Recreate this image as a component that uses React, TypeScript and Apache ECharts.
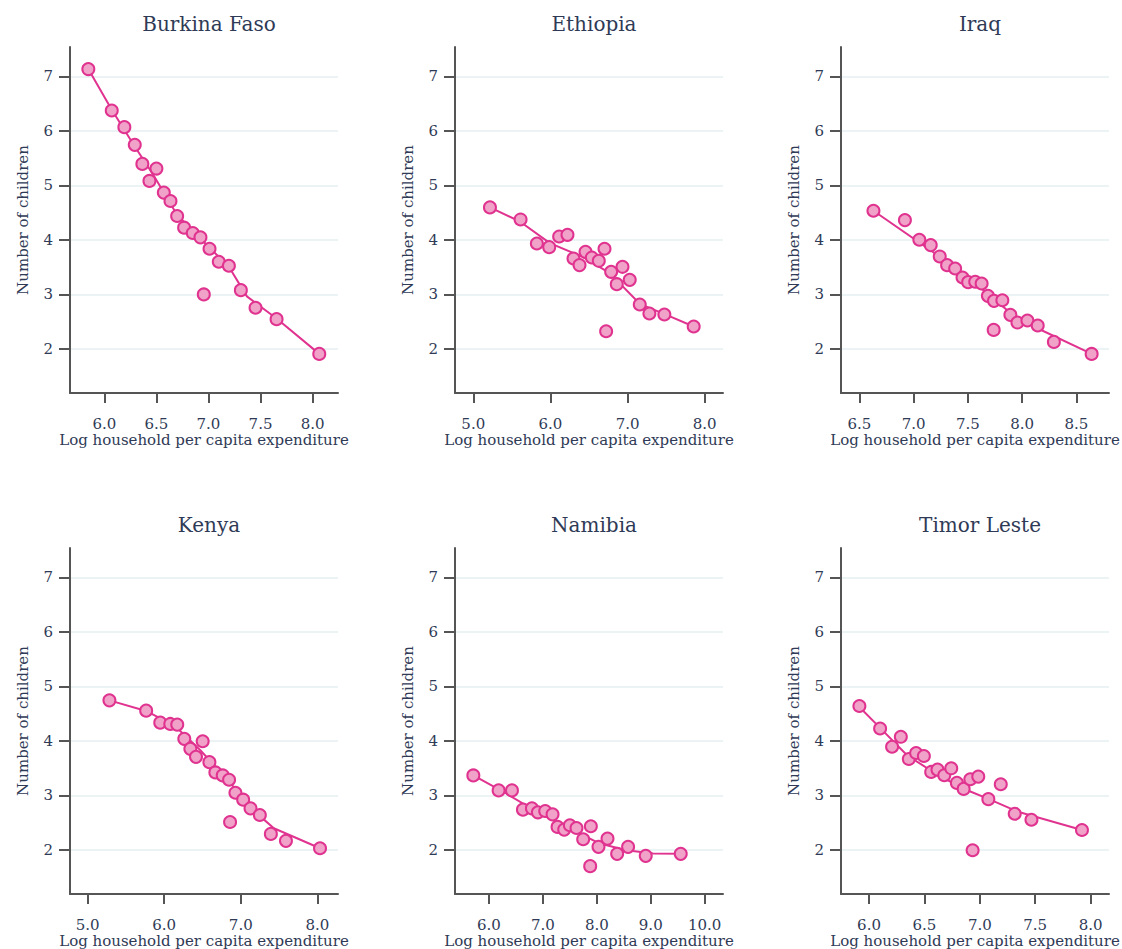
import React, { useEffect, useRef } from "react";
import * as echarts from "echarts";

const countries = ["Burkina Faso", "Ethiopia", "Iraq", "Kenya", "Namibia", "Timor Leste"];

// Burkina Faso
const bfX = [5.846, 6.071, 6.192, 6.292, 6.365, 6.5, 6.433, 6.571, 6.635, 6.699, 6.766, 6.849, 6.923, 7.01, 7.099, 7.196, 6.955, 7.311, 7.452, 7.654, 8.064];
const bfY = [7.135, 6.375, 6.069, 5.744, 5.395, 5.309, 5.082, 4.868, 4.714, 4.439, 4.224, 4.126, 4.047, 3.838, 3.599, 3.526, 2.999, 3.078, 2.754, 2.545, 1.908];
const bfFitX = [5.846, 6.071, 6.292, 6.471, 6.699, 7.01, 7.196, 7.369, 7.654, 8.064];
const bfFitY = [7.135, 6.387, 5.713, 5.192, 4.457, 3.857, 3.507, 2.963, 2.557, 1.908];

// Ethiopia
const etX = [5.216, 5.613, 5.824, 5.984, 6.113, 6.221, 6.299, 6.377, 6.455, 6.537, 6.627, 6.701, 6.787, 6.86, 6.934, 7.028, 6.722, 7.158, 7.283, 7.477, 7.857];
const etY = [4.596, 4.375, 3.934, 3.867, 4.063, 4.093, 3.659, 3.537, 3.781, 3.677, 3.616, 3.837, 3.414, 3.187, 3.506, 3.267, 2.324, 2.814, 2.649, 2.63, 2.41];
const etFitX = [5.216, 5.604, 5.993, 6.424, 6.769, 7.158, 7.503, 7.857];
const etFitY = [4.596, 4.338, 3.94, 3.683, 3.39, 2.827, 2.625, 2.41];

// Iraq
const iqX = [6.629, 6.919, 7.052, 7.157, 7.24, 7.308, 7.382, 7.45, 7.502, 7.567, 7.626, 7.684, 7.74, 7.817, 7.891, 7.956, 8.048, 8.143, 7.737, 8.292, 8.64];
const iqY = [4.535, 4.363, 4.002, 3.904, 3.696, 3.536, 3.475, 3.31, 3.224, 3.231, 3.2, 2.973, 2.881, 2.893, 2.624, 2.483, 2.52, 2.428, 2.348, 2.128, 1.907];
const iqFitX = [6.629, 7.246, 7.678, 7.894, 8.14, 8.64];
const iqFitY = [4.535, 3.684, 3.023, 2.655, 2.378, 1.907];

// Kenya
const keX = [5.284, 5.764, 5.948, 6.079, 6.17, 6.262, 6.341, 6.415, 6.502, 6.59, 6.668, 6.764, 6.847, 6.93, 7.031, 7.127, 7.249, 6.86, 7.393, 7.59, 8.035];
const keY = [4.744, 4.555, 4.335, 4.311, 4.299, 4.037, 3.854, 3.707, 3.994, 3.61, 3.421, 3.366, 3.287, 3.049, 2.921, 2.762, 2.64, 2.512, 2.293, 2.165, 2.03];
const keFitX = [5.284, 5.764, 6.144, 6.472, 6.865, 7.258, 7.432, 8.035];
const keFitY = [4.744, 4.549, 4.268, 3.829, 3.22, 2.61, 2.396, 2.03];

// Namibia
const naX = [5.71, 6.179, 6.426, 6.63, 6.796, 6.907, 7.043, 7.179, 7.272, 7.395, 7.5, 7.623, 7.747, 7.889, 7.877, 8.031, 8.198, 8.377, 8.58, 8.907, 9.556];
const naY = [3.366, 3.091, 3.091, 2.738, 2.762, 2.689, 2.713, 2.652, 2.421, 2.372, 2.451, 2.402, 2.195, 2.433, 1.701, 2.055, 2.207, 1.927, 2.055, 1.89, 1.927];
const naFitX = [5.71, 6.327, 6.944, 7.562, 8.056, 8.549, 9.043, 9.556];
const naFitY = [3.366, 3.03, 2.665, 2.36, 2.116, 1.994, 1.933, 1.927];

// Timor Leste
const tlX = [5.913, 6.1, 6.208, 6.287, 6.359, 6.425, 6.495, 6.561, 6.618, 6.679, 6.742, 6.793, 6.854, 6.914, 6.986, 7.189, 6.935, 7.077, 7.315, 7.466, 7.922];
const tlY = [4.641, 4.227, 3.892, 4.075, 3.667, 3.777, 3.722, 3.43, 3.472, 3.369, 3.497, 3.229, 3.119, 3.296, 3.345, 3.204, 1.993, 2.931, 2.663, 2.553, 2.365];
const tlFitX = [5.913, 6.1, 6.341, 6.643, 6.914, 7.077, 7.336, 7.922];
const tlFitY = [4.623, 4.239, 3.74, 3.344, 3.071, 2.937, 2.705, 2.365];

const yTicks = [2, 3, 4, 5, 6, 7];
const xTicksBF = [6.0, 6.5, 7.0, 7.5, 8.0];
const xTicksET = [5, 6, 7, 8];
const xTicksIQ = [6.5, 7.0, 7.5, 8.0, 8.5];
const xTicksKE = [5, 6, 7, 8];
const xTicksNA = [6, 7, 8, 9, 10];
const xTicksTL = [6.0, 6.5, 7.0, 7.5, 8.0];

const xMins = [5.67, 4.763, 6.33, 4.769, 5.37, 5.747];
const xMaxs = [8.244, 8.237, 8.8, 8.27, 10.34, 8.166];
const yMin = 1.19;
const yMax = 7.54;

const xName = "Log household per capita expenditure";
const yName = "Number of children";

const panels = [
  { x: bfX, y: bfY, fx: bfFitX, fy: bfFitY, ticks: xTicksBF },
  { x: etX, y: etY, fx: etFitX, fy: etFitY, ticks: xTicksET },
  { x: iqX, y: iqY, fx: iqFitX, fy: iqFitY, ticks: xTicksIQ },
  { x: keX, y: keY, fx: keFitX, fy: keFitY, ticks: xTicksKE },
  { x: naX, y: naY, fx: naFitX, fy: naFitY, ticks: xTicksNA },
  { x: tlX, y: tlY, fx: tlFitX, fy: tlFitY, ticks: xTicksTL },
];

const FONT = "DejaVu Serif";
const TEXT = "#2f3a56";
const AXIS = "#555555";
const PINK = "#e0338f";
const FILL = "#f1a2c9";

export default function App() {
  const ref = useRef<HTMLDivElement>(null);
  useEffect(() => {
    document.body.style.margin = "0";
    if (!ref.current) return;
    const chart = echarts.init(ref.current, undefined, { renderer: "svg" });
    const lefts = [70, 455, 841];
    const tops = [47, 548];
    const W = 268;
    const H = 346;
    const grids: any[] = [];
    const xAxes: any[] = [];
    const yAxes: any[] = [];
    const series: any[] = [];
    const titles: any[] = [];
    panels.forEach((p, i) => {
      const col = i % 3;
      const row = Math.floor(i / 3);
      grids.push({
        left: lefts[col],
        top: tops[row],
        width: W,
        height: H,
        containLabel: false,
        outerBoundsMode: "none",
      });
      titles.push({
        text: countries[i],
        left: lefts[col] + W / 2,
        textAlign: "center",
        top: tops[row] - 38,
        textStyle: { fontFamily: FONT, fontSize: 20, fontWeight: "normal", color: TEXT },
      });
      xAxes.push({
        gridIndex: i,
        type: "value",
        min: xMins[i],
        max: xMaxs[i],
        axisLine: { show: true, onZero: false, lineStyle: { color: AXIS, width: 2 } },
        axisTick: { show: true, customValues: p.ticks, length: 10, lineStyle: { color: AXIS, width: 2 } },
        axisLabel: {
          customValues: p.ticks,
          formatter: (v: number) => v.toFixed(1),
          margin: 23,
          fontFamily: FONT,
          fontSize: 15,
          color: TEXT,
        },
        splitLine: { show: false },
        name: xName,
        nameLocation: "middle",
        nameGap: 39,
        nameMoveOverlap: false,
        nameTextStyle: { fontFamily: FONT, fontSize: 15, color: TEXT },
      });
      yAxes.push({
        gridIndex: i,
        type: "value",
        min: yMin,
        max: yMax,
        axisLine: { show: true, onZero: false, lineStyle: { color: AXIS, width: 2 } },
        axisTick: { show: true, customValues: yTicks, length: 11, lineStyle: { color: AXIS, width: 2 } },
        axisLabel: {
          customValues: yTicks,
          margin: 17,
          fontFamily: FONT,
          fontSize: 15,
          color: TEXT,
        },
        splitLine: { show: true, lineStyle: { color: "#e6eff1", width: 1.5 } },
        name: yName,
        nameLocation: "middle",
        nameGap: 40,
        nameMoveOverlap: false,
        nameTextStyle: { fontFamily: FONT, fontSize: 15, color: TEXT },
      });
      series.push({
        type: "line",
        xAxisIndex: i,
        yAxisIndex: i,
        data: p.fx.map((x, j) => [x, p.fy[j]]),
        symbol: "none",
        lineStyle: { color: PINK, width: 2 },
        z: 2,
      });
      series.push({
        type: "scatter",
        xAxisIndex: i,
        yAxisIndex: i,
        data: p.x.map((x, j) => [x, p.y[j]]),
        symbolSize: 12,
        itemStyle: { color: FILL, borderColor: PINK, borderWidth: 2, opacity: 1 },
        z: 3,
      });
    });
    chart.setOption({
      animation: false,
      backgroundColor: "#ffffff",
      title: titles,
      grid: grids,
      xAxis: xAxes,
      yAxis: yAxes,
      series,
    });
    return () => chart.dispose();
  }, []);
  return <div ref={ref} style={{ width: 1122, height: 949 }} />;
}
